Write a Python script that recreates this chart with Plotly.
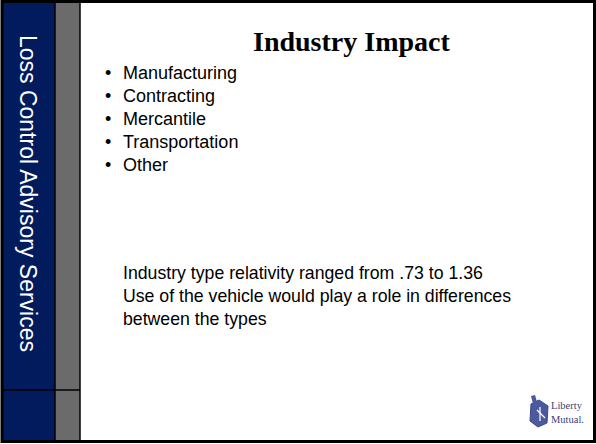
import plotly.graph_objects as go

# ---- content ----
title_text = "Industry Impact"
side_label = "Loss Control Advisory Services"
bullet_items = ["Manufacturing", "Contracting", "Mercantile", "Transportation", "Other"]
paragraph_lines = [
    "Industry type relativity ranged from .73 to 1.36",
    "Use of the vehicle would play a role in differences",
    "between the types",
]
logo_lines = ["Liberty", "Mutual."]

W, H = 596, 444
NAVY = "#011b5c"
GRAY = "#6b6b6b"

fig = go.Figure()
fig.add_trace(go.Scatter(x=[0], y=[0], mode="markers", marker=dict(opacity=0), hoverinfo="skip", showlegend=False))

shapes = []
# side bars
shapes.append(dict(type="rect", x0=2, x1=55, y0=1, y1=441, fillcolor=NAVY, line=dict(width=0), layer="below"))
shapes.append(dict(type="rect", x0=55, x1=80, y0=1, y1=441, fillcolor=GRAY, line=dict(width=0), layer="below"))
shapes.append(dict(type="line", x0=55, x1=55, y0=1, y1=441, line=dict(color="black", width=1.5)))
shapes.append(dict(type="line", x0=80, x1=80, y0=1, y1=441, line=dict(color="black", width=1.5)))
shapes.append(dict(type="line", x0=2, x1=80, y0=390, y1=390, line=dict(color="black", width=1.5)))
# outer frame
shapes.append(dict(type="rect", x0=2, x1=594.5, y0=1.5, y1=441.5, line=dict(color="black", width=3)))

# logo icon approximation
shapes.append(dict(type="path", path="M 531 404 L 539 400 L 548 406 L 547 423 L 538 427 L 530 421 Z",
                   fillcolor="#4b5a9c", line=dict(color="#3b4785", width=1)))
shapes.append(dict(type="path", path="M 533 404 L 531 396 L 535 395 L 537 402 Z",
                   fillcolor="#4b5a9c", line=dict(width=0)))
shapes.append(dict(type="line", x0=537, x1=545, y0=410, y1=418, line=dict(color="white", width=1.2)))
shapes.append(dict(type="line", x0=540, x1=540, y0=407, y1=421, line=dict(color="white", width=1.2)))

annotations = []
annotations.append(dict(text="<b>" + title_text + "</b>", x=351, y=41, xanchor="center", yanchor="middle",
                        showarrow=False, font=dict(family="Liberation Serif", size=28, color="black")))
annotations.append(dict(text=side_label, x=28, y=193, xanchor="center", yanchor="middle", textangle=90,
                        showarrow=False, font=dict(family="Liberation Sans", size=23, color="white")))

bullet_y0, bullet_step = 73, 23
for i, item in enumerate(bullet_items):
    yc = bullet_y0 + i * bullet_step
    annotations.append(dict(text="•", x=108, y=yc, xanchor="center", yanchor="middle", showarrow=False,
                            font=dict(family="Liberation Sans", size=18, color="black")))
    annotations.append(dict(text=item, x=121, y=yc, xanchor="left", yanchor="middle", showarrow=False,
                            font=dict(family="Liberation Sans", size=18, color="black")))

para_y0, para_step = 273, 23
for i, line in enumerate(paragraph_lines):
    annotations.append(dict(text=line, x=121, y=para_y0 + i * para_step, xanchor="left", yanchor="middle",
                            showarrow=False, font=dict(family="Liberation Sans", size=17.7, color="black")))

annotations.append(dict(text="<br>".join(logo_lines), x=549, y=412, xanchor="left", yanchor="middle",
                        align="left", showarrow=False,
                        font=dict(family="Liberation Serif", size=10.5, color="#3a3f7a")))

fig.update_layout(
    width=W, height=H, margin=dict(l=0, r=0, t=0, b=0),
    paper_bgcolor="white", plot_bgcolor="white",
    xaxis=dict(range=[0, W], visible=False, fixedrange=True),
    yaxis=dict(range=[H, 0], visible=False, fixedrange=True),
    shapes=shapes, annotations=annotations, showlegend=False,
)
fig.write_html("out.html", config={"displayModeBar": False},
               post_script="document.body.style.margin='0';document.body.style.overflow='hidden';")
